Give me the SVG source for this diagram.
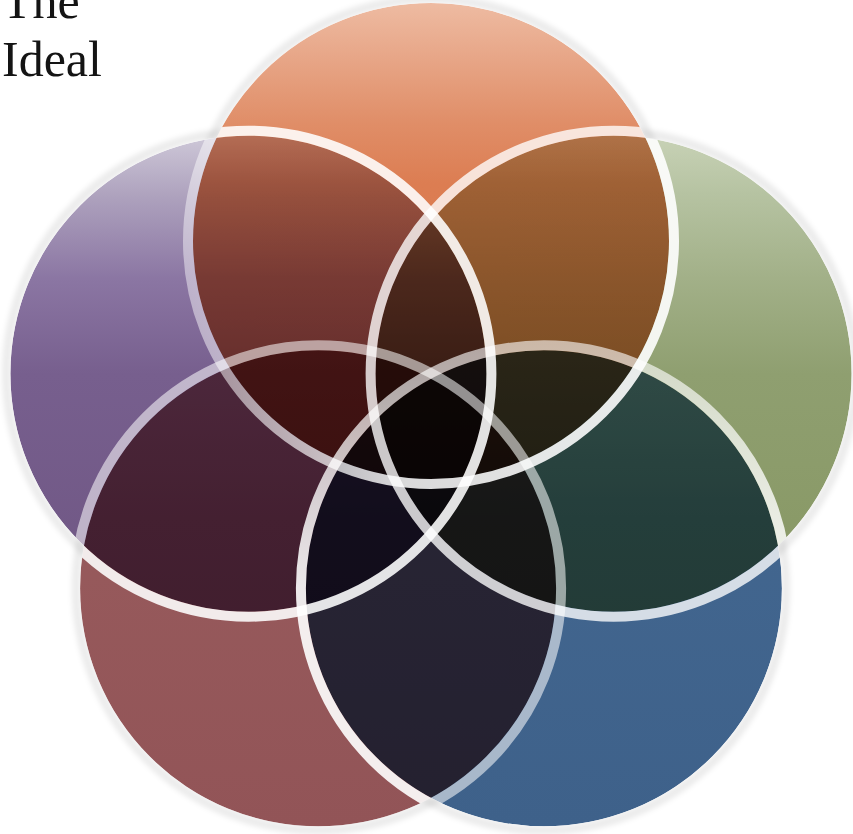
<svg xmlns="http://www.w3.org/2000/svg" width="853" height="834" viewBox="0 0 853 834">
<defs>
<style>
.fill{mix-blend-mode:multiply}
.ring{fill:none;stroke-width:10}
.halo{fill:none;stroke:#000;stroke-opacity:0.075;stroke-width:9}
.title{font-family:"Liberation Serif","DejaVu Serif",serif;font-size:50px;fill:#141414}
</style>
<filter id="blur" x="-10%" y="-10%" width="120%" height="120%"><feGaussianBlur stdDeviation="2.5"/></filter>
<mask id="outside" maskUnits="userSpaceOnUse" x="0" y="0" width="853" height="834">
<rect width="853" height="834" fill="#fff"/>
<circle cx="431" cy="241" r="238" fill="#000"/>
<circle cx="613.6" cy="373.7" r="238" fill="#000"/>
<circle cx="543.9" cy="588.3" r="238" fill="#000"/>
<circle cx="318.1" cy="588.3" r="238" fill="#000"/>
<circle cx="248.4" cy="373.7" r="238" fill="#000"/>
</mask>
<linearGradient id="gOrange" x1="0" y1="0" x2="0" y2="1">
<stop offset="0" stop-color="#EEBBA2"/><stop offset="0.12" stop-color="#E7A586"/><stop offset="0.25" stop-color="#E08E68"/><stop offset="0.38" stop-color="#DC7D52"/><stop offset="1" stop-color="#D97A4E"/>
</linearGradient>
<linearGradient id="gPurple" x1="0" y1="0" x2="0" y2="1">
<stop offset="0" stop-color="#CEC8D8"/><stop offset="0.13" stop-color="#ADA1BD"/><stop offset="0.3" stop-color="#8B76A3"/><stop offset="0.5" stop-color="#775F8E"/><stop offset="1" stop-color="#6F5683"/>
</linearGradient>
<linearGradient id="gGreen" x1="0" y1="0" x2="0" y2="1">
<stop offset="0" stop-color="#C8D2B6"/><stop offset="0.12" stop-color="#B6C3A2"/><stop offset="0.3" stop-color="#A2B088"/><stop offset="0.5" stop-color="#8F9F70"/><stop offset="1" stop-color="#879763"/>
</linearGradient>
<linearGradient id="gBlue" x1="0" y1="0" x2="0" y2="1">
<stop offset="0" stop-color="#56789E"/><stop offset="0.35" stop-color="#42668F"/><stop offset="1" stop-color="#3E618A"/>
</linearGradient>
<linearGradient id="gRed" x1="0" y1="0" x2="0" y2="1">
<stop offset="0" stop-color="#A46A6C"/><stop offset="0.35" stop-color="#975A5C"/><stop offset="1" stop-color="#925457"/>
</linearGradient>
<linearGradient id="rOrange" gradientUnits="userSpaceOnUse" x1="188" y1="0" x2="674" y2="0">
<stop offset="0" stop-color="#fff" stop-opacity="0.45"/><stop offset="0.45" stop-color="#fff" stop-opacity="0.85"/><stop offset="1" stop-color="#fff" stop-opacity="0.9"/>
</linearGradient>
<linearGradient id="rBlue" gradientUnits="userSpaceOnUse" x1="0" y1="345" x2="0" y2="831">
<stop offset="0" stop-color="#fff" stop-opacity="0.6"/><stop offset="0.5" stop-color="#fff" stop-opacity="0.9"/><stop offset="1" stop-color="#fff" stop-opacity="0.9"/>
</linearGradient>
</defs>
<g id="diagram" style="isolation:isolate">
<rect width="853" height="834" fill="#fff"/>
<g id="fills">
<g id="node-orange"><circle class="fill" cx="431" cy="241" r="238" fill="url(#gOrange)"/></g>
<g id="node-green"><circle class="fill" cx="613.6" cy="373.7" r="238" fill="url(#gGreen)"/></g>
<g id="node-blue"><circle class="fill" cx="543.9" cy="588.3" r="238" fill="url(#gBlue)"/></g>
<g id="node-red"><circle class="fill" cx="318.1" cy="588.3" r="238" fill="url(#gRed)"/></g>
<g id="node-purple"><circle class="fill" cx="248.4" cy="373.7" r="238" fill="url(#gPurple)"/></g>
</g>
<g id="rings">
<circle id="ring-red" class="ring" cx="318.1" cy="588.3" r="243" stroke="#fff" stroke-opacity="0.55"/>
<circle id="ring-blue" class="ring" cx="543.9" cy="588.3" r="243" stroke="url(#rBlue)"/>
<circle id="ring-green" class="ring" cx="613.6" cy="373.7" r="243" stroke="#fff" stroke-opacity="0.78"/>
<circle id="ring-orange" class="ring" cx="431" cy="241" r="243" stroke="url(#rOrange)"/>
<circle id="ring-purple" class="ring" cx="248.4" cy="373.7" r="243" stroke="#fff" stroke-opacity="0.88"/>
</g>
<g id="halo" mask="url(#outside)">
<g filter="url(#blur)">
<circle class="halo" cx="431" cy="241" r="242"/>
<circle class="halo" cx="613.6" cy="373.7" r="242"/>
<circle class="halo" cx="543.9" cy="588.3" r="242"/>
<circle class="halo" cx="318.1" cy="588.3" r="242"/>
<circle class="halo" cx="248.4" cy="373.7" r="242"/>
</g>
</g>
</g>
<g id="title">
<text class="title" x="2" y="18">The</text>
<text class="title" x="2" y="76">Ideal</text>
</g>
</svg>
